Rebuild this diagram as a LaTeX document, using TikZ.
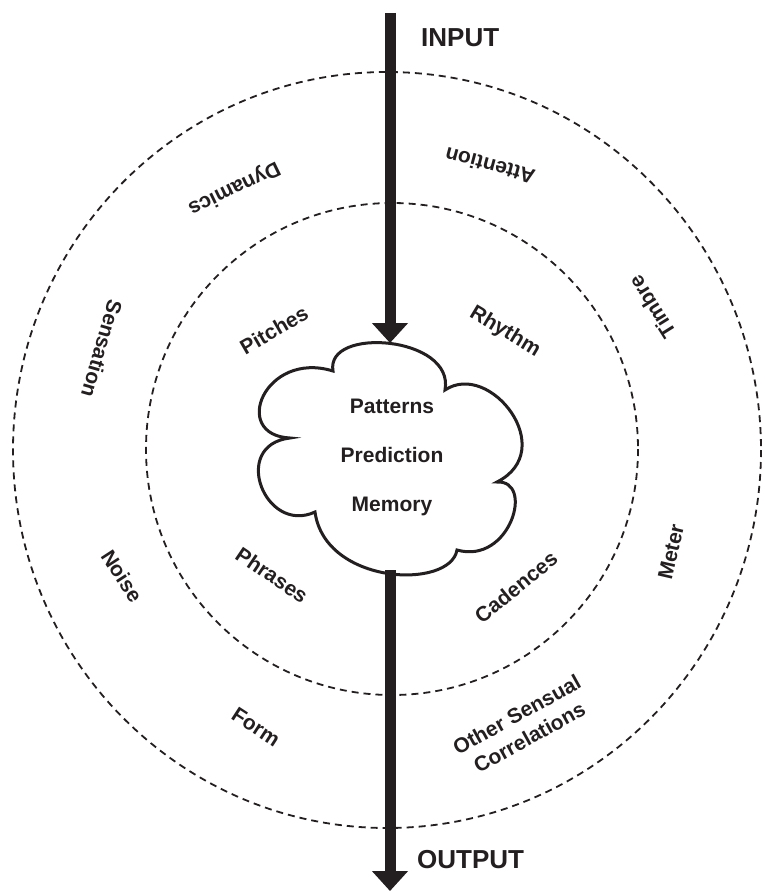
\documentclass[tikz,border=0pt]{standalone}
\usepackage{fontspec}
\setmainfont{Liberation Sans}
\usetikzlibrary{arrows.meta}
\definecolor{ink}{RGB}{35,31,32}

\begin{document}
\begin{tikzpicture}[x=1pt,y=-1pt,
    ring/.style={ink,line width=1.8pt,dash pattern=on 7pt off 5pt},
    flow/.style={ink,line width=11pt,-{Triangle[length=20pt,width=35pt]}},
    lbl/.style={ink,font=\fontsize{21}{26}\selectfont\bfseries,align=center,inner sep=0pt},
    io/.style={ink,font=\fontsize{26}{30}\selectfont\bfseries,inner sep=0pt}]
  \useasboundingbox (0,0) rectangle (764,891);

  \draw[ring] (387,450) ellipse [x radius=374,y radius=378];
  \draw[ring] (392,449) circle [radius=246];

  % cloud
  \draw[ink,line width=3pt,fill=white]
    (333,371) .. controls (325,326) and (455,336) .. (445,390)
    .. controls (490,360) and (560,450) .. (497,482)
    .. controls (535,480) and (510,565) .. (457,550)
    .. controls (450,590) and (325,585) .. (315,512)
    .. controls (265,535) and (230,445) .. (290,438)
    .. controls (230,435) and (265,350) .. cycle;

  \node[lbl,anchor=base] (patterns) at (392,413) {Patterns};
  \node[lbl,anchor=base] (prediction) at (392,462) {Prediction};
  \node[lbl,anchor=base] (memory) at (392,511) {Memory};

  \coordinate (top) at (390,13);
  \coordinate (cloudtop) at (390,343);
  \coordinate (cloudbot) at (390,570);
  \coordinate (bottom) at (390,891);
  \draw[flow] (top) -- (cloudtop);
  \draw[flow] (cloudbot) -- (bottom);

  \node[io,anchor=west] (input) at (421,38) {INPUT};
  \node[io,anchor=west] (output) at (417,860) {OUTPUT};

  % inner ring
  \node[lbl,rotate=30] (pitches) at (274,330) {Pitches};
  \node[lbl,rotate=-31] (rhythm) at (505,332) {Rhythm};
  \node[lbl,rotate=-34] (phrases) at (272,575) {Phrases};
  \node[lbl,rotate=39] (cadences) at (516,587) {Cadences};

  % outer ring
  \node[lbl,rotate=206] (dynamics) at (234,188) {Dynamics};
  \node[lbl,rotate=165] (attention) at (490,166) {Attention};
  \node[lbl,rotate=122] (timbre) at (652,307) {Timbre};
  \node[lbl,rotate=-106] (sensation) at (102,349) {Sensation};
  \node[lbl,rotate=-57] (noise) at (122,576) {Noise};
  \node[lbl,rotate=77] (meter) at (671,552) {Meter};
  \node[lbl,rotate=-33] (form) at (256,727) {Form};
  \node[lbl,rotate=29] (other) at (523,726) {Other Sensual\\Correlations};

\end{tikzpicture}
\end{document}
